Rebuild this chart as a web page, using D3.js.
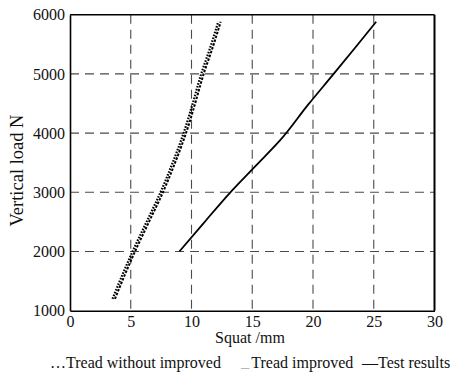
<!DOCTYPE html>
<html>
<head>
<meta charset="utf-8">
<script src="https://cdn.jsdelivr.net/npm/d3@7/dist/d3.min.js"></script>
<style>
  html, body { margin: 0; padding: 0; background: #fff; }
  svg text { font-family: "Liberation Serif", "Times New Roman", serif; fill: #111; }
</style>
</head>
<body>
<svg id="chart" width="454" height="373"></svg>
<script>
// Squat (mm) vs vertical load (N)
const withoutImproved = [
  [3.5, 1200], [4.3, 1600], [5.15, 2000], [6.3, 2500], [7.45, 3000],
  [8.45, 3500], [9.35, 4000], [10.1, 4500], [10.8, 5000], [11.55, 5450], [12.2, 5880]
];
const improved = [
  [3.7, 1200], [4.5, 1600], [5.35, 2000], [6.5, 2500], [7.65, 3000],
  [8.65, 3500], [9.55, 4000], [10.3, 4500], [11.0, 5000], [11.75, 5450], [12.4, 5880]
];
const testResults = [
  [9.0, 2000], [11.0, 2480], [13.2, 3000], [15.3, 3450], [17.3, 3880],
  [19.6, 4480], [21.7, 5000], [23.5, 5450], [25.2, 5880]
];
const xTicks = [0, 5, 10, 15, 20, 25, 30];
const yTicks = [1000, 2000, 3000, 4000, 5000, 6000];
const xTitle = "Squat /mm";
const yTitle = "Vertical load N";
const legendMarks = ["\u2026", "___", "\u2014"];
const legendLabels = ["Tread without improved", "Tread improved", "Test results"];

const svg = d3.select("#chart");
const plotL = 70, plotR = 434.5, plotT = 14.7, plotB = 310.7;

const x = d3.scaleLinear().domain([0, 30]).range([plotL, plotR]);
const y = d3.scaleLinear().domain([1000, 6000]).range([plotB, plotT]);

// dashed grid
const grid = svg.append("g").attr("stroke", "#4a4a4a").attr("stroke-width", 1.1)
  .attr("stroke-dasharray", "9,6");
grid.selectAll("line.v").data(xTicks.filter(d => d > 0 && d < 30)).join("line")
  .attr("class", "v")
  .attr("x1", d => x(d)).attr("x2", d => x(d)).attr("y1", plotT).attr("y2", plotB);
grid.selectAll("line.h").data(yTicks.filter(d => d > 1000 && d < 6000)).join("line")
  .attr("class", "h")
  .attr("y1", d => y(d)).attr("y2", d => y(d)).attr("x1", plotL).attr("x2", plotR);

// axes
const xAxis = svg.append("g").attr("transform", `translate(0,${plotB})`)
  .call(d3.axisBottom(x).tickValues(xTicks).tickSize(0).tickPadding(5));
const yAxis = svg.append("g").attr("transform", `translate(${plotL},0)`)
  .call(d3.axisLeft(y).tickValues(yTicks).tickFormat(d3.format("d")).tickSize(0).tickPadding(5));
[xAxis, yAxis].forEach(g => {
  g.select(".domain").attr("stroke", "#000").attr("stroke-width", 1.6);
  g.selectAll("text").style("font-size", "16px").attr("fill", "#111")
    .style("font-family", "'Liberation Serif', serif");
});

// frame top and right
svg.append("line").attr("x1", plotL).attr("x2", plotR).attr("y1", plotT).attr("y2", plotT)
  .attr("stroke", "#000").attr("stroke-width", 1.4);
svg.append("line").attr("x1", plotR).attr("x2", plotR).attr("y1", plotT).attr("y2", plotB)
  .attr("stroke", "#000").attr("stroke-width", 2);

const line = d3.line().x(d => x(d[0])).y(d => y(d[1])).curve(d3.curveMonotoneY);

svg.append("path").datum(withoutImproved).attr("d", line)
  .attr("fill", "none").attr("stroke", "#000").attr("stroke-width", 2.2)
  .attr("stroke-dasharray", "1.6,1.4");
svg.append("path").datum(improved).attr("d", line)
  .attr("fill", "none").attr("stroke", "#000").attr("stroke-width", 2)
  .attr("stroke-dasharray", "2.5,1.5");
svg.append("path").datum(testResults).attr("d", line)
  .attr("fill", "none").attr("stroke", "#000").attr("stroke-width", 1.8);

// titles
svg.append("text").attr("x", 250).attr("y", 343).attr("text-anchor", "middle")
  .style("font-size", "16px").text(xTitle);
svg.append("text").attr("transform", "translate(23,170.5) rotate(-90)")
  .attr("text-anchor", "middle").style("font-size", "18.5px").text(yTitle);

// legend
const legendX = [50, 241, 362];
const leg = svg.selectAll("text.leg").data(legendLabels).join("text").attr("class", "leg")
  .attr("x", (d, i) => legendX[i]).attr("y", 368).style("font-size", "16px");
leg.append("tspan").style("font-size", (d, i) => i === 1 ? "5.5px" : "16px")
  .text((d, i) => legendMarks[i]);
leg.append("tspan").attr("dx", (d, i) => i === 1 ? 2 : 0).text(d => d);
</script>
</body>
</html>
